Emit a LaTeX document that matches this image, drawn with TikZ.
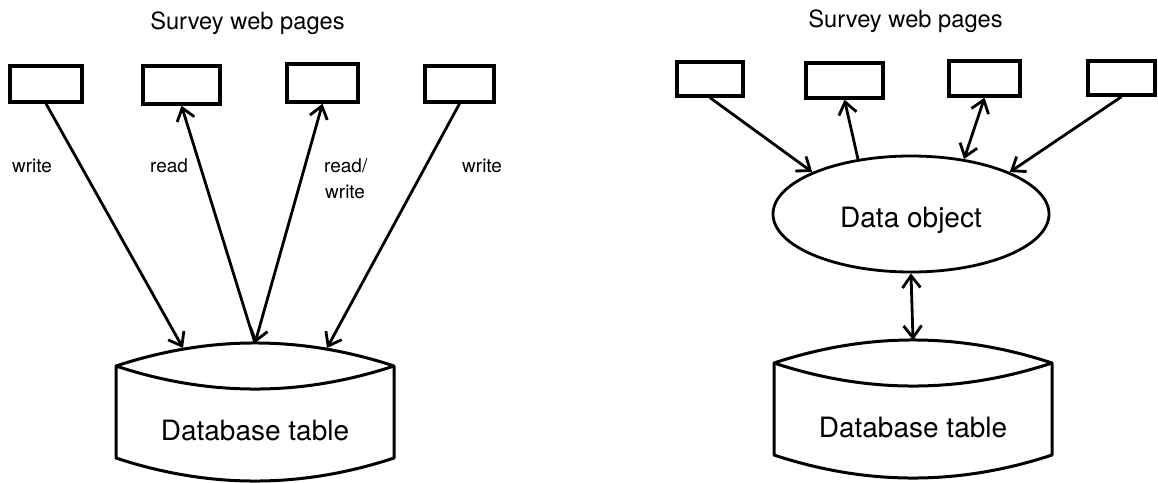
\documentclass[tikz,border=0pt]{standalone}
\usepackage{fontspec}
\setmainfont{TeX Gyre Heros}
\usetikzlibrary{arrows.meta,shapes.geometric}

\tikzset{
  pagebox/.style={draw, line width=3.4pt, inner sep=0pt},
  conn/.style={line width=2.8pt},
  dbline/.style={line width=3pt, line join=round},
  dbtext/.style={font=\fontsize{28}{30}\selectfont, inner sep=0pt},
  title/.style={font=\fontsize{23.7}{26}\selectfont, inner sep=0pt, anchor=base},
  lbl/.style={font=\fontsize{19}{21}\selectfont, inner sep=0pt, anchor=base west},
  % database table: lens-shaped top over a box with a curved floor
  dbtable/.pic={
    \coordinate (-top) at (0,0);
    \coordinate (-w) at (-72,5);
    \coordinate (-e) at (72,5);
    \draw[dbline] (-139,115) -- (-139,23)
        .. controls (-46,-7.7) and (46,-7.7) .. (139,23) -- (139,115)
        .. controls (46,145.7) and (-46,145.7) .. (-139,115) -- cycle;
    \draw[dbline] (-139,23) .. controls (-46,53.7) and (46,53.7) .. (139,23);
    \node[dbtext] (-label) at (0,87) {Database table};
  }
}

\begin{document}
\begin{tikzpicture}[x=1pt, y=-1pt,
  >={Straight Barb[length=12pt,width=18pt]}]
\useasboundingbox (0,0) rectangle (1158,482);

% ---------- direct access ----------
\node[title] (titleL) at (247.5,29) {Survey web pages};

\node[pagebox, minimum width=72pt, minimum height=36pt] (L1) at (46,84) {};
\node[pagebox, minimum width=77pt, minimum height=38pt] (L2) at (181.5,85) {};
\node[pagebox, minimum width=71pt, minimum height=38pt] (L3) at (322.5,83) {};
\node[pagebox, minimum width=69pt, minimum height=36pt] (L4) at (459.5,84) {};

\pic (dbL) at (255,343) {dbtable};

\draw[conn, ->] (L1.south) -- (dbL-w);
\draw[conn, ->] (dbL-top) -- (L2.south);
\draw[conn, <->] (L3.south) -- (dbL-top);
\draw[conn, ->] (L4.south) -- (dbL-e);

\node[lbl] (lw1) at (12,172) {write};
\node[lbl] (lr) at (150,172) {read};
\node[lbl] (lrw1) at (324,172) {read/};
\node[lbl] (lrw2) at (325,198) {write};
\node[lbl] (lw2) at (462,172) {write};

% ---------- access through a data object ----------
\node[title] (titleR) at (905.5,27) {Survey web pages};

\node[pagebox, minimum width=66pt, minimum height=34pt] (R1) at (710,79) {};
\node[pagebox, minimum width=77pt, minimum height=35pt] (R2) at (844.5,80.5) {};
\node[pagebox, minimum width=71pt, minimum height=35pt] (R3) at (984.5,78.5) {};
\node[pagebox, minimum width=67pt, minimum height=34pt] (R4) at (1121.5,78) {};

\node[draw, ellipse, line width=2.8pt, minimum width=276pt, minimum height=116pt,
      inner sep=0pt] (obj) at (911,214) {};
\node[dbtext, anchor=base] (objtext) at (911,227) {Data object};

\pic (dbR) at (913,340) {dbtable};

\draw[conn, ->] (R1.south) -- (obj.157);
\draw[conn, ->] (obj.134) -- (R2.south);
\draw[conn, <->] (R3.south) -- (obj.46);
\draw[conn, ->] (R4.south) -- (obj.23);
\draw[conn, <->] (obj.south) -- (dbR-top);
\end{tikzpicture}
\end{document}
